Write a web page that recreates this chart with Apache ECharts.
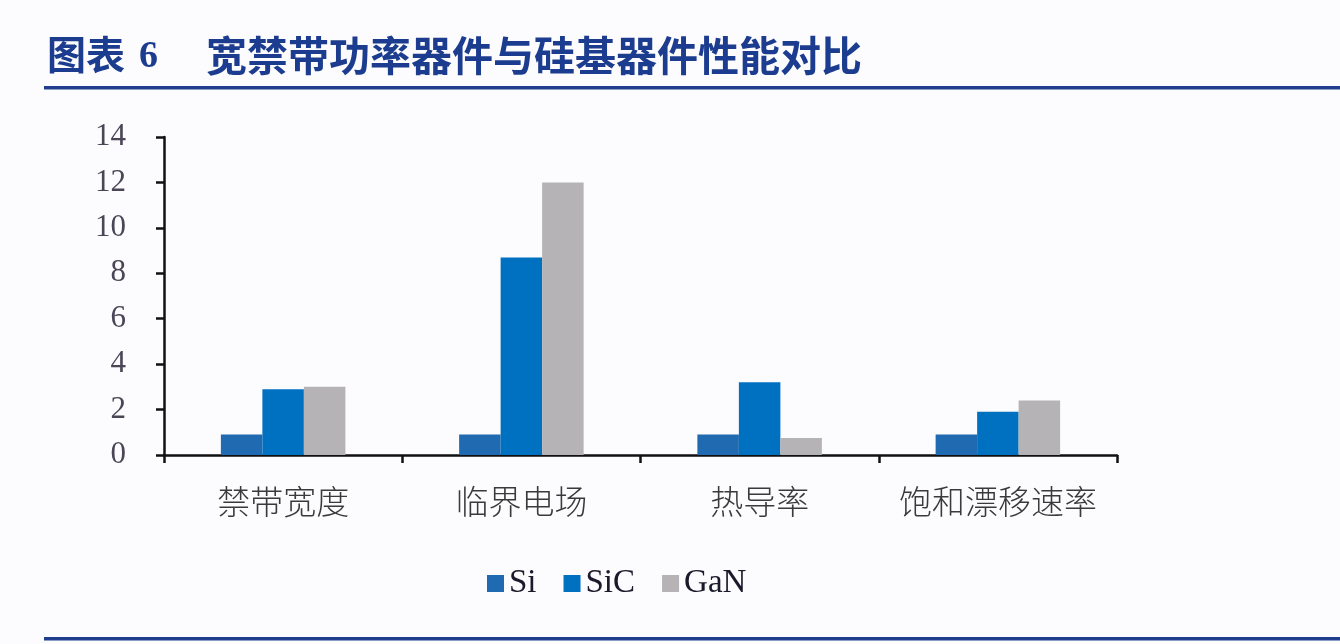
<!DOCTYPE html>
<html><head><meta charset="utf-8">
<script src="https://cdn.jsdelivr.net/npm/echarts@6/dist/echarts.min.js"></script>
<style>html,body{margin:0;padding:0;background:#fcfbfd;}#c{width:1340px;height:644px;}</style>
</head><body><div id="c"></div>
<script>
const categories = ['禁带宽度', '临界电场', '热导率', '饱和漂移速率'];
const siValues = [0.9, 0.9, 0.9, 0.9];
const sicValues = [2.9, 8.7, 3.2, 1.9];
const ganValues = [3.0, 12.0, 0.75, 2.4];
const seriesNames = ['Si', 'SiC', 'GaN'];
const seriesColors = ['#1f6ab0', '#0070c0', '#b5b3b5'];

const chart = echarts.init(document.getElementById('c'));
const data = [siValues, sicValues, ganValues];
chart.setOption({
  backgroundColor: '#fcfbfd',
  animation: false,
  graphic: [
    { type: 'text', left: 47, top: 35, style: { text: '图表', fontSize: 39, fontWeight: 'bold', fontFamily: 'Noto Sans CJK SC', fill: '#1c3d8f' } },
    { type: 'text', left: 139, top: 38, style: { text: '6', fontSize: 38, fontWeight: 'bold', fontFamily: 'Liberation Serif', fill: '#1c3d8f' } },
    { type: 'text', left: 206, top: 35, style: { text: '宽禁带功率器件与硅基器件性能对比', fontSize: 41, fontWeight: 'bold', fontFamily: 'Noto Sans CJK SC', fill: '#1c3d8f' } },
    { type: 'rect', shape: { x: 44, y: 86, width: 1296, height: 3.5 }, style: { fill: '#1f3f8e' } },
    { type: 'rect', shape: { x: 44, y: 637, width: 1296, height: 3.5 }, style: { fill: '#1f3f8e' } }
  ],
  legend: {
    left: 482, top: 562, itemWidth: 17, itemHeight: 17, itemGap: 27,
    icon: 'rect',
    textStyle: { fontFamily: 'Liberation Serif', fontSize: 33, color: '#1a1a2a' },
    data: seriesNames
  },
  grid: { left: 164, right: 223, top: 137, bottom: 189, containLabel: false },
  xAxis: {
    type: 'category', data: categories, boundaryGap: true,
    axisLine: { lineStyle: { color: '#111', width: 2.5 } },
    axisTick: { show: true, interval: 0, length: 8, lineStyle: { color: '#111', width: 2.5 } },
    axisLabel: { interval: 0, margin: 30, fontFamily: 'Noto Sans CJK SC', fontSize: 33, color: '#3a3a3a', fontWeight: 300 }
  },
  yAxis: {
    type: 'value', min: 0, max: 14, interval: 2,
    splitLine: { show: false },
    axisLine: { show: true, lineStyle: { color: '#111', width: 2.5 } },
    axisTick: { show: true, length: 8, lineStyle: { color: '#111', width: 2.5 } },
    axisLabel: { margin: 38, fontFamily: 'Liberation Serif', fontSize: 31, color: '#4a4656' }
  },
  series: seriesNames.map((n, i) => ({
    name: n, type: 'bar', data: data[i], barWidth: 41.5, barGap: '0%',
    itemStyle: { color: seriesColors[i] }
  }))
});
</script></body></html>
